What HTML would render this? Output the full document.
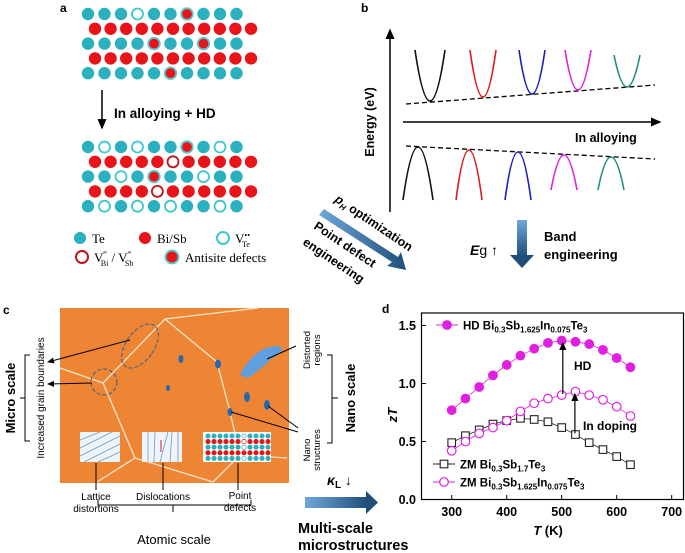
<!DOCTYPE html>
<html><head><meta charset="utf-8"><style>
html,body{margin:0;padding:0;background:#fff;}
svg{display:block;font-family:"Liberation Sans",Arial,sans-serif;}
</style></head><body>
<svg id="fig" width="685" height="553" viewBox="0 0 685 553">
<defs>
<linearGradient id="gv" x1="0" y1="0" x2="0" y2="1"><stop offset="0" stop-color="#6fa8dc"/><stop offset="1" stop-color="#1f4e79"/></linearGradient>
<linearGradient id="gh" x1="0" y1="0" x2="1" y2="0"><stop offset="0" stop-color="#6fa8dc"/><stop offset="1" stop-color="#1f4e79"/></linearGradient>
<marker id="ah" markerWidth="8" markerHeight="8" refX="6" refY="4" orient="auto"><path d="M0,1 L7,4 L0,7 z" fill="#000"/></marker>
</defs>

<!-- Panel a -->
<g id="pa">
<text x="60" y="12" font-size="12" font-weight="bold">a</text>
<line x1="102" y1="90" x2="102" y2="128" stroke="#000" stroke-width="1.5" marker-end="url(#ah)"/>
<text x="114" y="118" font-size="13.5" font-weight="bold">In alloying + HD</text>
<g font-family="Liberation Serif,serif" font-size="13">
<circle cx="80" cy="238" r="6" fill="#2bb0bf"/><text x="92" y="243">Te</text>
<circle cx="145" cy="238" r="6" fill="#e8141a"/><text x="157" y="243">Bi/Sb</text>
<circle cx="223" cy="238" r="6" fill="none" stroke="#3cc8d0" stroke-width="2"/><text x="235" y="243">V<tspan font-size="8" dy="-5">••</tspan><tspan font-size="8" dx="-8" dy="9">Te</tspan></text>
<circle cx="82" cy="257" r="6" fill="none" stroke="#c0141a" stroke-width="2"/><text x="94" y="262">V<tspan font-size="8" dy="-5">‴</tspan><tspan font-size="8" dx="-6" dy="9">Bi</tspan><tspan dy="-4"> / V</tspan><tspan font-size="8" dy="-5">‴</tspan><tspan font-size="8" dx="-6" dy="9">Sb</tspan></text>
<circle cx="172" cy="257" r="6.5" fill="#e8141a" stroke="#5cc8d0" stroke-width="2"/><text x="185" y="262">Antisite defects</text>
</g>
</g>

<!-- Panel b -->
<g id="pb">
<text x="361" y="12" font-size="12" font-weight="bold">b</text>
<line x1="390" y1="212" x2="390" y2="30" stroke="#000" stroke-width="1.5" marker-end="url(#ah)"/>
<line x1="403" y1="122" x2="660" y2="122" stroke="#000" stroke-width="1.5" marker-end="url(#ah)"/>
<text transform="translate(374,122) rotate(-90)" text-anchor="middle" font-size="12.5" font-weight="bold">Energy (eV)</text>
<text x="575" y="142" font-size="12.5" font-weight="bold">In alloying</text>
<line x1="406" y1="104" x2="655" y2="85" stroke="#000" stroke-dasharray="5,3" stroke-width="1.3"/>
<line x1="406" y1="146" x2="655" y2="159" stroke="#000" stroke-dasharray="5,3" stroke-width="1.3"/>
<g id="bands" fill="none" stroke-width="1.6"></g>
<rect x="517" y="220" width="10" height="36" fill="url(#gv)"/>
<path d="M510,255 L534,255 L522,268 z" fill="#1f4e79"/>
<text x="470" y="255" font-size="14"><tspan font-weight="bold" font-style="italic">E</tspan>g ↑</text>
<text x="544" y="241" font-size="13" font-weight="bold">Band</text>
<text x="544" y="259" font-size="13" font-weight="bold">engineering</text>
</g>

<!-- diagonal arrow -->
<g>
<polygon points="324,209 398,257 401,252 406,270 387,266 392,262 319,215" fill="url(#gh)"/>
<text transform="translate(334,201) rotate(34)" font-size="12.5" font-weight="bold"><tspan font-style="italic">p</tspan><tspan font-size="8" dy="3" font-style="italic">H</tspan><tspan dy="-3"> optimization</tspan></text>
<text transform="translate(313,228) rotate(34)" font-size="12.5" font-weight="bold">Point defect</text>
<text transform="translate(302,244) rotate(34)" font-size="12.5" font-weight="bold">engineering</text>
</g>

<!-- Panel c -->
<g id="pc">
<text x="3" y="314" font-size="12" font-weight="bold">c</text>
<rect x="60" y="308" width="229" height="175" fill="#ee8535"/>
<g stroke="#f6e6c8" stroke-width="1.3" fill="none">
<polyline points="60,368 103,383 165,319 258,308"/>
<polyline points="165,319 217,362 230,412 240,455 287,458"/>
<polyline points="240,455 213,482"/>
<polyline points="103,383 135,458 213,482"/>
<polyline points="135,458 97,482"/>
</g>
<ellipse cx="140" cy="346" rx="14" ry="25" transform="rotate(35 140 346)" fill="none" stroke="#55657a" stroke-dasharray="4,2" stroke-width="1.2"/>
<ellipse cx="104" cy="382" rx="13" ry="13" fill="none" stroke="#55657a" stroke-dasharray="4,2" stroke-width="1.2"/>
<g fill="#2468b0">
<ellipse cx="181" cy="359" rx="2.5" ry="4"/><ellipse cx="168" cy="388" rx="2" ry="3"/><ellipse cx="218" cy="364" rx="3" ry="4.5"/>
<ellipse cx="247" cy="397" rx="3" ry="5"/><ellipse cx="267" cy="405" rx="3" ry="5"/><ellipse cx="230" cy="412" rx="2.5" ry="4"/>
</g>
<path d="M240,375 Q255,345 280,346 Q286,352 272,358 Q260,370 248,378 z" fill="#5f9fe0"/>
<rect x="80" y="432" width="40" height="30" fill="#eef4fa"/>
<g stroke="#6a9ccc" stroke-width="0.8"><line x1="80" y1="440" x2="100" y2="432"/><line x1="80" y1="448" x2="112" y2="432"/><line x1="80" y1="456" x2="120" y2="436"/><line x1="84" y1="462" x2="120" y2="444"/><line x1="98" y1="462" x2="120" y2="452"/></g>
<rect x="142" y="432" width="40" height="30" fill="#eef4fa"/>
<g stroke="#6a9ccc" stroke-width="0.8"><line x1="148" y1="432" x2="148" y2="462"/><line x1="155" y1="432" x2="154" y2="462"/><line x1="168" y1="432" x2="160" y2="462"/><line x1="172" y1="432" x2="170" y2="462"/><line x1="178" y1="432" x2="178" y2="462"/></g>
<line x1="161" y1="440" x2="161" y2="452" stroke="#d02020" stroke-width="1"/>
<rect x="203" y="432" width="68" height="30" fill="#fff"/>
<g id="pdots"></g>
<g stroke="#000" stroke-width="1" fill="none">
<line x1="96" y1="463" x2="96" y2="490"/><line x1="163" y1="463" x2="163" y2="490"/><line x1="238" y1="463" x2="238" y2="490"/>
<line x1="130" y1="340" x2="48" y2="362" marker-end="url(#ah)"/><line x1="92" y1="383" x2="48" y2="384" marker-end="url(#ah)"/>
<line x1="267" y1="359" x2="296" y2="346"/><line x1="268" y1="406" x2="298" y2="428"/><line x1="231" y1="412" x2="298" y2="432"/>
<polyline points="98,500 98,505 251,505 251,500"/><line x1="173" y1="505" x2="173" y2="512"/>
<polyline points="30,355 25,355 25,441 30,441"/><line x1="25" y1="398" x2="20" y2="398"/>
<polyline points="327,355 332,355 332,443 327,443"/><line x1="332" y1="398" x2="338" y2="398"/>
</g>
<text transform="translate(15,398) rotate(-90)" text-anchor="middle" font-size="13" font-weight="bold">Micro scale</text>
<text transform="translate(44,398) rotate(-90)" text-anchor="middle" font-size="10">Increased grain boundaries</text>
<text transform="translate(355,398) rotate(-90)" text-anchor="middle" font-size="13" font-weight="bold">Nano scale</text>
<text transform="translate(310,350) rotate(-90)" text-anchor="middle" font-size="9.5">Distorted</text>
<text transform="translate(320,350) rotate(-90)" text-anchor="middle" font-size="9.5">regions</text>
<text transform="translate(310,450) rotate(-90)" text-anchor="middle" font-size="9.5">Nano</text>
<text transform="translate(320,450) rotate(-90)" text-anchor="middle" font-size="9.5">structures</text>
<g font-size="10" text-anchor="middle">
<text x="96" y="500">Lattice</text><text x="96" y="512">distortions</text>
<text x="163" y="500">Dislocations</text>
<text x="240" y="499">Point</text><text x="240" y="511">defects</text>
</g>
<text x="174" y="544" text-anchor="middle" font-size="13">Atomic scale</text>
</g>

<!-- bottom arrow -->
<text x="327" y="485" font-size="14" font-style="italic" font-weight="bold">κ<tspan font-size="10" font-style="normal" dy="3">L</tspan><tspan font-style="normal" font-weight="normal" dy="-3"> ↓</tspan></text>
<rect x="305" y="497" width="62" height="11" fill="url(#gh)"/>
<path d="M366,491 L378,502.5 L366,514 z" fill="#1f4e79"/>
<text x="298" y="533" font-size="14.5" font-weight="bold">Multi-scale</text>
<text x="298" y="550" font-size="14.5" font-weight="bold">microstructures</text>

<!-- Panel d -->
<g id="pd">
<text x="382" y="313" font-size="12" font-weight="bold">d</text>
<rect x="421.5" y="313" width="262" height="186.5" fill="none" stroke="#000" stroke-width="1.2"/>
<g id="dax"></g>
<g id="dmarks"></g>
<text transform="translate(397,415) rotate(-90)" text-anchor="middle" font-size="13" font-weight="bold"><tspan font-style="italic">zT</tspan></text>
<text x="548" y="535" text-anchor="middle" font-size="13" font-weight="bold"><tspan font-style="italic">T</tspan> (K)</text>
<text x="574" y="370" font-size="12" font-weight="bold">HD</text>
<text x="583" y="430" font-size="12" font-weight="bold">In doping</text>
</g>
</svg>
<script>
const NS="http://www.w3.org/2000/svg";
function mk(tag,attrs,parent){const e=document.createElementNS(NS,tag);for(const k in attrs)e.setAttribute(k,attrs[k]);parent.appendChild(e);return e;}

// ---- panel d data ----
const temps=[300,325,350,375,400,425,450,475,500,525,550,575,600,625];
const hdInDoped=[0.77,0.87,0.97,1.07,1.16,1.24,1.30,1.35,1.37,1.36,1.34,1.29,1.22,1.14];
const zmInDoped=[0.42,0.50,0.57,0.62,0.68,0.76,0.83,0.87,0.90,0.93,0.90,0.86,0.80,0.72];
const zmPristine=[0.49,0.55,0.60,0.65,0.68,0.70,0.69,0.67,0.62,0.56,0.49,0.43,0.37,0.30];
const xTicks=[300,400,500,600,700];
const yTicks=[0.0,0.5,1.0,1.5];
const yTickLabels=["0.0","0.5","1.0","1.5"];

const X=t=>451.7+(t-300)*0.55;
const Y=v=>499.5-v*116;
const ax=document.getElementById('dax');
xTicks.forEach(t=>{
  const l=mk('line',{x1:X(t),x2:X(t),y1:499.5,y2:495,stroke:'#000'},ax);
  
  
  const tx=mk('text',{x:X(t),y:516,'text-anchor':'middle','font-size':12.5,'font-weight':'bold'},ax);
  tx.textContent=t;
  
  
});
yTicks.forEach((v,i)=>{
  const l=mk('line',{x1:421.5,x2:426,y1:Y(v),y2:Y(v),stroke:'#000'},ax);
  
  
  const tx=mk('text',{x:416,y:Y(v)+4.5,'text-anchor':'end','font-size':12.5,'font-weight':'bold'},ax);
  tx.textContent=yTickLabels[i];
  
  
});
const dm=document.getElementById('dmarks');
function series(vals,color,shape,filled,name){
  const pl=mk('polyline',{points:temps.map((t,i)=>X(t)+','+Y(vals[i])).join(' '),fill:'none',stroke:color,'stroke-width':0.8},dm);
  
  
  temps.forEach((t,i)=>{
    let m;
    if(shape==='c') m=mk('circle',{cx:X(t),cy:Y(vals[i]),r:4.3,fill:filled?color:'#fff',stroke:color,'stroke-width':1.2},dm);
    else m=mk('rect',{x:X(t)-3.8,y:Y(vals[i])-3.8,width:7.6,height:7.6,fill:'#fff',stroke:color,'stroke-width':1.1},dm);
    
    
  });
}
series(zmPristine,'#222','s',false,'zm-bi0.3sb1.7te3');
series(zmInDoped,'#e020e0','c',false,'zm-in-doped');
series(hdInDoped,'#e020e0','c',true,'hd-in-doped');
const a1=mk('line',{x1:X(502),y1:Y(0.91),x2:X(502),y2:Y(1.35),stroke:'#000','stroke-width':1.2,'marker-end':'url(#ah)'},dm);


const a2=mk('line',{x1:X(524),y1:Y(0.57),x2:X(524),y2:Y(0.91),stroke:'#000','stroke-width':1.2,'marker-end':'url(#ah)'},dm);


function legend(x,y,shape,filled,color,parts,name){
  const g=mk('g',{},dm);
  
  
  mk('line',{x1:x,x2:x+22,y1:y,y2:y,stroke:color,'stroke-width':0.9},g);
  if(shape==='c') mk('circle',{cx:x+11,cy:y,r:4.3,fill:filled?color:'#fff',stroke:color,'stroke-width':1.2},g);
  else mk('rect',{x:x+7.2,y:y-3.8,width:7.6,height:7.6,fill:'#fff',stroke:color,'stroke-width':1.1},g);
  const t=mk('text',{x:x+27,y:y+4.5,'font-size':11.5,'font-weight':'bold'},g);
  t.innerHTML=parts;
}
legend(436,325,'c',true,'#e020e0','HD Bi<tspan font-size="8" dy="3">0.3</tspan><tspan dy="-3">Sb</tspan><tspan font-size="8" dy="3">1.625</tspan><tspan dy="-3">In</tspan><tspan font-size="8" dy="3">0.075</tspan><tspan dy="-3">Te</tspan><tspan font-size="8" dy="3">3</tspan>','legend-hd');
legend(433,464,'s',false,'#222','ZM Bi<tspan font-size="8" dy="3">0.3</tspan><tspan dy="-3">Sb</tspan><tspan font-size="8" dy="3">1.7</tspan><tspan dy="-3">Te</tspan><tspan font-size="8" dy="3">3</tspan>','legend-zm');
legend(433,482,'c',false,'#e020e0','ZM Bi<tspan font-size="8" dy="3">0.3</tspan><tspan dy="-3">Sb</tspan><tspan font-size="8" dy="3">1.625</tspan><tspan dy="-3">In</tspan><tspan font-size="8" dy="3">0.075</tspan><tspan dy="-3">Te</tspan><tspan font-size="8" dy="3">3</tspan>','legend-zm-in');

// ---- panel a atoms ----
const pa=document.getElementById('pa');
const topRows=["TTTvTTATTT","RRRRRRRRRRR","TTTTATTATT","RRRRRRRRRRR","TTTTTATTTT"];
const botRows=["TvTvTTATvT","RRRRRrRRRRR","TTvTATTvTT","RRRRrRRRRRR","TvTvTvTTvT"];
function drawBlock(rows,y0){
  rows.forEach((row,ri)=>{
    const y=y0+ri*14.8;
    const te=row.length===10;
    const x0=te?88:95, dx=te?16.5:15.6;
    [...row].forEach((c,ci)=>{
      const x=x0+ci*dx;
      let a;
      if(c==='T') a=mk('circle',{cx:x,cy:y,r:6.2,fill:'#2bb0bf'},pa);
      else if(c==='R') a=mk('circle',{cx:x,cy:y,r:6.2,fill:'#e8141a'},pa);
      else if(c==='v') a=mk('circle',{cx:x,cy:y,r:5.5,fill:'#fff',stroke:'#3cc8d0','stroke-width':1.8},pa);
      else if(c==='r') a=mk('circle',{cx:x,cy:y,r:5.5,fill:'#fff',stroke:'#c0141a','stroke-width':1.8},pa);
      else a=mk('circle',{cx:x,cy:y,r:5.8,fill:'#e8141a',stroke:'#5cc8d0','stroke-width':1.8},pa);
      
      
    });
  });
}
drawBlock(topRows,14);
drawBlock(botRows,147);

// ---- panel b bands ----
const bands=document.getElementById('bands');
const bandColors=['#111','#e01818','#1a1ac0','#e020e0','#1a9080'];
const cbMin=[[430,101],[483,97],[532,94],[578,90],[627,87]];
const vbMax=[[418,147],[469,150],[518,152],[564,155],[611,157]];
bandColors.forEach((c,i)=>{
  const [cx,cy]=cbMin[i], w=i===0?15:13, top=i===4?55:50;
  const p1=mk('path',{d:`M${cx-w},${top} Q${cx},${cy+(cy-top)} ${cx+w},${top}`,stroke:c},bands);
  
  
  const [vx,vy]=vbMax[i], vw=i===0?15:13, bot=i>=3?190:200;
  const p2=mk('path',{d:`M${vx-vw},${bot} Q${vx},${vy-(bot-vy)} ${vx+vw},${bot}`,stroke:c},bands);
  
  
});

const pd=document.getElementById('pdots');
["TTTTTTvTTTT","RRRRRRrRRRR","TTTTTTvTTTT","RRRRRRRRRRR","TTTTTTvTTTT"].forEach((row,ri)=>{
  [...row].forEach((c,ci)=>{
    const x=208+ci*6, y=436+ri*5.6;
    const col=(c==='T'||c==='v')?'#2bb0bf':'#e01818';
    const d=mk('circle',{cx:x,cy:y,r:2.2,fill:(c==='v'||c==='r')?'#fff':col,stroke:col,'stroke-width':0.7},pd);
    
    
  });
});
</script>
</body></html>
